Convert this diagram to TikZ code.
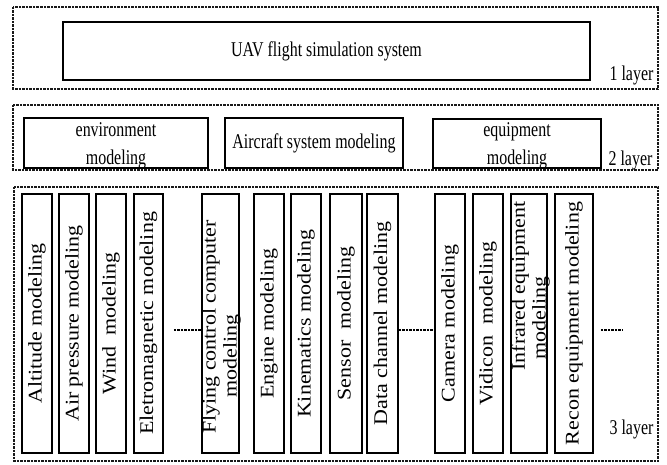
\documentclass[tikz,border=0pt]{standalone}
\usepackage{fontspec}
\usepackage{graphicx}
\setmainfont{Liberation Serif}
\newfontfamily\hfont[FakeStretch=0.76]{Liberation Serif}
\newcommand\vlab[1]{\rotatebox{90}{\scalebox{1}[0.88]{#1}}}
\begin{document}
\begin{tikzpicture}[x=1pt,y=-1pt,
  layer/.style={draw=black!90, line width=1.5pt, dash pattern=on 2.5pt off 1pt},
  box/.style={draw, line width=1.8pt, inner sep=0pt},
  col/.style={box, minimum height=259pt, font=\fontsize{22}{25}\selectfont},
  vtext/.style={inner sep=0pt, font=\fontsize{22}{25}\selectfont},
  htext/.style={font=\hfont\fontsize{21}{28}\selectfont},
  dots/.style={line width=2.2pt, dash pattern=on 2.5pt off 1pt}]
\useasboundingbox (0,0) rectangle (667,465);
% layers
\draw[layer] (13,7) rectangle (658,89);
\draw[layer] (13,105) rectangle (658,170);
\draw[layer] (14,187) rectangle (658,461);
% layer 1
\node[box, htext, minimum width=527pt, minimum height=58pt] (uav) at (326.5,51) {UAV flight simulation system};
\node[htext, anchor=base] (l1) at (631.5,81) {1 layer};
% layer 2
\node[box, minimum width=184pt, minimum height=50pt] (env) at (116,143) {};
\node[htext, anchor=base] (envt1) at (116,137) {environment};
\node[htext, anchor=base] (envt2) at (116,165) {modeling};
\node[box, htext, minimum width=178pt, minimum height=50pt] (acs) at (314,143) {Aircraft system modeling};
\node[box, minimum width=168pt, minimum height=49pt] (equ) at (517,143.5) {};
\node[htext, anchor=base] (equt1) at (517,137) {equipment};
\node[htext, anchor=base] (equt2) at (517,165) {modeling};
\node[htext, anchor=base] (l2) at (630.5,166) {2 layer};
% layer 3
\node[col, minimum width=30pt] (alt) at (37,323.5) {\vlab{Altitude modeling}};
\node[col, minimum width=30pt] (air) at (74,323.5) {\vlab{Air pressure modeling}};
\node[col, minimum width=30pt] (wind) at (111,323.5) {\vlab{Wind\ \ modeling}};
\node[col, minimum width=29pt] (elec) at (148.5,323.5) {\vlab{Eletromagnetic modeling}};
\node[col, minimum width=37pt] (fly) at (220.5,323.5) {};
\node[vtext] (flyt1) at (211,327) {\vlab{Flying control computer}};
\node[vtext] (flyt2) at (232,356) {\vlab{modeling}};
\node[col, minimum width=30pt] (eng) at (269,323.5) {\vlab{Engine modeling}};
\node[col, minimum width=30pt] (kin) at (306,323.5) {\vlab{Kinematics modeling}};
\node[col, minimum width=32pt] (sen) at (346,323.5) {\vlab{Sensor\ \ modeling}};
\node[col, minimum width=31pt] (dat) at (382.5,323.5) {\vlab{Data channel modeling}};
\node[col, minimum width=30pt] (cam) at (450,323.5) {\vlab{Camera modeling}};
\node[col, minimum width=30pt] (vid) at (488,323.5) {\vlab{Vidicon\ \ modeling}};
\node[col, minimum width=36pt] (inf) at (529,323.5) {};
\node[vtext] (inft1) at (520,286) {\vlab{Infrared equipment}};
\node[vtext] (inft2) at (541,318) {\vlab{modeling}};
\node[col, minimum width=38pt] (rec) at (574,323.5) {\vlab{Recon equipment modeling}};
\node[htext, anchor=base] (l3) at (631.5,434) {3 layer};
% dotted connectors
\coordinate (dl) at (0,330);
\coordinate (tail) at (623,330);
\draw[dots, shorten <=10pt] (elec.east |- dl) -- (fly.west |- dl);
\draw[dots] (dat.east |- dl) -- (cam.west |- dl);
\draw[dots, shorten <=7pt] (rec.east |- dl) -- (tail);
\end{tikzpicture}
\end{document}
